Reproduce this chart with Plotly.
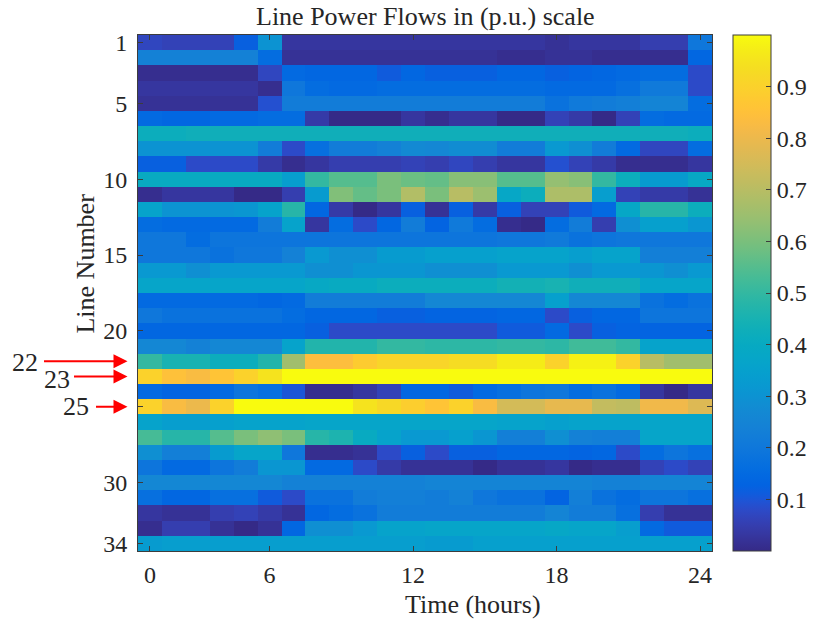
import plotly.graph_objects as go

# ---------------- data ----------------
hours_index = list(range(1, 25))          # 24 hourly columns
line_numbers = list(range(1, 35))         # 34 lines
x_tick_vals = [1, 6, 12, 18, 24]
x_tick_text = ["0", "6", "12", "18", "24"]
y_tick_vals = [1, 5, 10, 15, 20, 25, 30, 34]
y_tick_text = ["1", "5", "10", "15", "20", "", "30", "34"]
cbar_ticks = [0.1, 0.2, 0.3, 0.4, 0.5, 0.6, 0.7, 0.8, 0.9]
marked_lines = [22, 23, 25]

L01 = [0.07,0.06,0.06,0.06,0.12,0.30,0.03,0.03,0.03,0.03,0.03,0.03,0.03,0.03,0.03,0.03,0.03,0.02,0.03,0.03,0.03,0.05,0.05,0.20]
L02 = [0.24,0.24,0.24,0.24,0.24,0.16,0.02,0.02,0.02,0.02,0.02,0.02,0.02,0.02,0.02,0.01,0.01,0.02,0.02,0.01,0.01,0.01,0.01,0.14]
L03 = [0.01,0.01,0.01,0.01,0.01,0.07,0.15,0.14,0.14,0.14,0.11,0.14,0.12,0.12,0.12,0.14,0.14,0.12,0.13,0.14,0.15,0.16,0.16,0.08]
L04 = [0.03,0.03,0.03,0.03,0.03,0.01,0.20,0.16,0.15,0.15,0.16,0.16,0.16,0.16,0.16,0.16,0.16,0.15,0.15,0.15,0.17,0.21,0.21,0.08]
L05 = [0.02,0.02,0.02,0.02,0.02,0.09,0.22,0.22,0.22,0.22,0.22,0.22,0.22,0.22,0.22,0.22,0.22,0.18,0.21,0.22,0.23,0.25,0.25,0.16]
L06 = [0.15,0.14,0.14,0.15,0.15,0.16,0.16,0.04,0.00,0.00,0.00,0.03,0.01,0.03,0.03,0.00,0.00,0.06,0.04,0.00,0.06,0.16,0.15,0.15]
L07 = [0.42,0.42,0.43,0.43,0.43,0.43,0.43,0.43,0.43,0.43,0.43,0.43,0.43,0.43,0.43,0.43,0.43,0.43,0.43,0.43,0.43,0.43,0.43,0.42]
L08 = [0.30,0.30,0.30,0.30,0.30,0.22,0.08,0.17,0.22,0.22,0.24,0.27,0.26,0.28,0.28,0.22,0.22,0.32,0.29,0.22,0.15,0.07,0.07,0.16]
L09 = [0.12,0.12,0.08,0.08,0.08,0.04,0.01,0.03,0.05,0.05,0.05,0.06,0.05,0.07,0.05,0.03,0.03,0.09,0.06,0.04,0.01,0.01,0.01,0.03]
L10 = [0.40,0.40,0.40,0.40,0.40,0.40,0.34,0.50,0.55,0.55,0.60,0.58,0.57,0.62,0.62,0.55,0.55,0.64,0.62,0.50,0.42,0.33,0.33,0.39]
L11 = [0.01,0.03,0.03,0.03,0.00,0.00,0.05,0.33,0.61,0.57,0.60,0.69,0.60,0.70,0.65,0.38,0.42,0.68,0.68,0.34,0.06,0.04,0.04,0.02]
L12 = [0.36,0.30,0.30,0.30,0.31,0.36,0.48,0.14,0.04,0.00,0.03,0.12,0.02,0.12,0.04,0.12,0.06,0.06,0.11,0.15,0.38,0.48,0.48,0.42]
L13 = [0.16,0.15,0.15,0.15,0.15,0.22,0.36,0.03,0.16,0.08,0.14,0.22,0.13,0.21,0.16,0.01,0.00,0.16,0.22,0.05,0.29,0.35,0.35,0.31]
L14 = [0.20,0.20,0.16,0.19,0.19,0.19,0.19,0.19,0.19,0.19,0.19,0.19,0.19,0.19,0.19,0.20,0.20,0.21,0.18,0.19,0.20,0.20,0.20,0.20]
L15 = [0.20,0.20,0.20,0.18,0.20,0.20,0.24,0.32,0.29,0.29,0.33,0.33,0.35,0.35,0.35,0.36,0.36,0.36,0.34,0.36,0.36,0.23,0.23,0.23]
L16 = [0.32,0.32,0.29,0.32,0.32,0.32,0.32,0.29,0.29,0.31,0.31,0.31,0.29,0.29,0.29,0.32,0.32,0.32,0.29,0.32,0.32,0.31,0.29,0.32]
L17 = [0.37,0.37,0.37,0.37,0.37,0.37,0.37,0.39,0.40,0.40,0.42,0.42,0.42,0.42,0.42,0.44,0.44,0.45,0.43,0.43,0.43,0.37,0.37,0.37]
L18 = [0.15,0.15,0.15,0.15,0.15,0.14,0.15,0.22,0.22,0.22,0.22,0.22,0.26,0.26,0.26,0.26,0.26,0.35,0.26,0.26,0.26,0.18,0.16,0.18]
L19 = [0.20,0.18,0.18,0.18,0.18,0.18,0.16,0.14,0.14,0.14,0.12,0.12,0.13,0.13,0.13,0.14,0.14,0.08,0.12,0.14,0.14,0.19,0.19,0.19]
L20 = [0.14,0.14,0.14,0.14,0.14,0.14,0.14,0.12,0.08,0.08,0.08,0.08,0.08,0.08,0.08,0.11,0.11,0.15,0.08,0.12,0.13,0.13,0.13,0.13]
L21 = [0.26,0.26,0.24,0.26,0.26,0.26,0.36,0.47,0.47,0.47,0.50,0.50,0.49,0.49,0.49,0.50,0.50,0.49,0.52,0.52,0.50,0.36,0.36,0.36]
L22 = [0.50,0.45,0.45,0.42,0.42,0.47,0.66,0.84,0.84,0.88,0.91,0.91,0.91,0.93,0.93,0.97,0.97,0.90,0.98,0.98,0.90,0.70,0.66,0.66]
L23 = [0.90,0.85,0.83,0.86,0.90,0.95,1.00,1.00,1.00,1.00,1.00,1.00,1.00,1.00,1.00,1.00,1.00,1.00,1.00,1.00,1.00,1.00,1.00,1.00]
L24 = [0.15,0.13,0.13,0.15,0.19,0.17,0.10,0.01,0.01,0.03,0.06,0.14,0.14,0.11,0.15,0.17,0.19,0.20,0.16,0.18,0.15,0.03,0.00,0.03]
L25 = [0.90,0.83,0.80,0.90,1.00,1.00,1.00,1.00,1.00,0.95,0.92,0.89,0.86,0.90,0.83,0.75,0.75,0.79,0.79,0.72,0.71,0.81,0.81,0.77]
L26 = [0.36,0.34,0.34,0.35,0.36,0.36,0.36,0.37,0.37,0.37,0.37,0.37,0.37,0.37,0.37,0.36,0.36,0.35,0.36,0.36,0.36,0.37,0.37,0.37]
L27 = [0.53,0.48,0.48,0.55,0.60,0.63,0.60,0.48,0.46,0.40,0.36,0.32,0.32,0.35,0.31,0.23,0.23,0.29,0.24,0.23,0.23,0.37,0.37,0.37]
L28 = [0.29,0.23,0.23,0.33,0.37,0.37,0.20,0.01,0.01,0.02,0.08,0.12,0.08,0.12,0.12,0.14,0.14,0.14,0.13,0.14,0.08,0.16,0.19,0.17]
L29 = [0.19,0.15,0.15,0.19,0.22,0.31,0.31,0.15,0.15,0.08,0.04,0.02,0.02,0.02,0.00,0.02,0.02,0.03,0.00,0.01,0.01,0.06,0.08,0.06]
L30 = [0.26,0.26,0.26,0.26,0.26,0.26,0.24,0.24,0.24,0.24,0.24,0.24,0.25,0.25,0.25,0.25,0.25,0.25,0.25,0.24,0.24,0.25,0.25,0.25]
L31 = [0.17,0.14,0.14,0.17,0.17,0.11,0.08,0.18,0.18,0.22,0.23,0.23,0.22,0.24,0.20,0.18,0.18,0.13,0.23,0.18,0.16,0.19,0.19,0.17]
L32 = [0.03,0.02,0.02,0.05,0.06,0.04,0.02,0.14,0.16,0.18,0.22,0.22,0.22,0.22,0.22,0.22,0.22,0.25,0.22,0.22,0.17,0.05,0.02,0.02]
L33 = [0.01,0.05,0.05,0.02,0.00,0.02,0.14,0.29,0.29,0.32,0.36,0.36,0.37,0.37,0.37,0.37,0.37,0.38,0.37,0.37,0.34,0.15,0.11,0.11]
L34 = [0.33,0.34,0.34,0.34,0.34,0.34,0.34,0.34,0.34,0.34,0.34,0.34,0.33,0.33,0.35,0.35,0.35,0.35,0.35,0.35,0.35,0.35,0.35,0.35]

flows = [L01, L02, L03, L04, L05, L06, L07, L08, L09, L10, L11, L12, L13, L14, L15, L16, L17,
         L18, L19, L20, L21, L22, L23, L24, L25, L26, L27, L28, L29, L30, L31, L32, L33, L34]

# ---------------- style ----------------
PARULA = [
    [0.2081,0.1663,0.5292],[0.2116,0.1898,0.5777],[0.2123,0.2138,0.6270],[0.2081,0.2386,0.6771],
    [0.1959,0.2645,0.7279],[0.1707,0.2919,0.7792],[0.1253,0.3242,0.8303],[0.0591,0.3598,0.8683],
    [0.0117,0.3875,0.8820],[0.0060,0.4086,0.8828],[0.0165,0.4266,0.8786],[0.0329,0.4430,0.8720],
    [0.0498,0.4586,0.8641],[0.0629,0.4737,0.8554],[0.0723,0.4887,0.8467],[0.0779,0.5040,0.8384],
    [0.0793,0.5200,0.8312],[0.0749,0.5375,0.8263],[0.0641,0.5570,0.8240],[0.0488,0.5772,0.8228],
    [0.0343,0.5966,0.8199],[0.0265,0.6137,0.8135],[0.0239,0.6287,0.8038],[0.0231,0.6418,0.7913],
    [0.0228,0.6535,0.7768],[0.0267,0.6642,0.7607],[0.0384,0.6743,0.7436],[0.0590,0.6838,0.7254],
    [0.0843,0.6928,0.7062],[0.1133,0.7015,0.6859],[0.1453,0.7098,0.6646],[0.1801,0.7177,0.6424],
    [0.2178,0.7250,0.6193],[0.2586,0.7317,0.5954],[0.3022,0.7376,0.5712],[0.3482,0.7424,0.5473],
    [0.3953,0.7459,0.5244],[0.4420,0.7481,0.5033],[0.4871,0.7491,0.4840],[0.5300,0.7491,0.4661],
    [0.5709,0.7485,0.4494],[0.6099,0.7473,0.4337],[0.6473,0.7456,0.4188],[0.6834,0.7435,0.4044],
    [0.7184,0.7411,0.3905],[0.7525,0.7384,0.3768],[0.7858,0.7356,0.3633],[0.8185,0.7327,0.3498],
    [0.8507,0.7299,0.3360],[0.8824,0.7274,0.3217],[0.9139,0.7258,0.3063],[0.9450,0.7261,0.2886],
    [0.9739,0.7314,0.2666],[0.9938,0.7455,0.2403],[0.9990,0.7653,0.2164],[0.9955,0.7861,0.1967],
    [0.9880,0.8066,0.1794],[0.9789,0.8271,0.1633],[0.9697,0.8481,0.1475],[0.9626,0.8705,0.1309],
    [0.9589,0.8949,0.1132],[0.9598,0.9218,0.0948],[0.9661,0.9514,0.0755],[0.9763,0.9831,0.0538],
]
n = len(PARULA)
colorscale = [[i / (n - 1), "rgb(%d,%d,%d)" % tuple(round(c * 255) for c in rgb)]
              for i, rgb in enumerate(PARULA)]

FONT = "Liberation Serif, Times New Roman, serif"
TXT = "#262626"
AX = "#3c3c3c"

W, H = 816, 621
L, R, T, B = 137.5, 104, 35, 70
pw = W - L - R
ph = H - T - B

def px_x(px):
    return (px - L) / pw

def px_y(py):
    return (H - B - py) / ph

fig = go.Figure(go.Heatmap(
    z=flows, x=hours_index, y=line_numbers,
    colorscale=colorscale, zmin=0, zmax=1,
    colorbar=dict(
        x=px_x(733), xanchor="left", xpad=0,
        y=0.5, yanchor="middle", ypad=0, len=1, lenmode="fraction",
        thickness=38, outlinecolor=AX, outlinewidth=1,
        tickvals=cbar_ticks, ticktext=[str(v) for v in cbar_ticks],
        ticks="inside", ticklen=5, tickcolor=AX,
        tickfont=dict(family=FONT, size=24, color=TXT),
    ),
    hoverinfo="skip",
))

fig.update_xaxes(
    range=[0.5, 24.5], tickvals=x_tick_vals, ticktext=x_tick_text,
    ticks="inside", ticklen=5, tickcolor=AX, mirror="ticks",
    showline=True, linecolor=AX, linewidth=1, showgrid=False, zeroline=False,
    tickfont=dict(family=FONT, size=24, color=TXT), ticklabelstandoff=2,
)
fig.update_yaxes(
    range=[34.5, 0.5], tickvals=y_tick_vals, ticktext=y_tick_text,
    ticks="inside", ticklen=5, tickcolor=AX, mirror="ticks",
    showline=True, linecolor=AX, linewidth=1, showgrid=False, zeroline=False,
    tickfont=dict(family=FONT, size=24, color=TXT), ticklabelstandoff=5,
)

annotations = [
    dict(text="Line Power Flows in (p.u.) scale", xref="paper", yref="paper",
         x=px_x(425), y=px_y(17), xanchor="center", yanchor="middle", showarrow=False,
         font=dict(family=FONT, size=26, color=TXT)),
    dict(text="Time (hours)", xref="paper", yref="paper",
         x=px_x(473), y=px_y(604), xanchor="center", yanchor="middle", showarrow=False,
         font=dict(family=FONT, size=26, color=TXT)),
    dict(text="Line Number", xref="paper", yref="paper", textangle=-90,
         x=px_x(84), y=px_y(264), xanchor="center", yanchor="middle", showarrow=False,
         font=dict(family=FONT, size=26, color=TXT)),
]

arrow_tails = {22: 42, 23: 72, 25: 94}
label_pos = {22: (24.5, 22.11), 23: (56, 23.23), 25: (75.5, 25.0)}
tip = px_x(127)
for ln in marked_lines:
    annotations.append(dict(
        text="", xref="paper", yref="y", x=tip, y=ln,
        ax=arrow_tails[ln] - 127, ay=0, axref="pixel", ayref="pixel",
        showarrow=True, arrowhead=2, arrowsize=1.4, arrowwidth=2, arrowcolor="#ff0000",
        standoff=0, startstandoff=0,
    ))
    lx, ly = label_pos[ln]
    annotations.append(dict(
        text=str(ln), xref="paper", yref="y", x=px_x(lx), y=ly,
        xanchor="center", yanchor="middle", showarrow=False,
        font=dict(family=FONT, size=26, color=TXT),
    ))

fig.update_layout(
    width=W, height=H,
    margin=dict(l=L, r=R, t=T, b=B, pad=0, autoexpand=False),
    paper_bgcolor="white", plot_bgcolor="white",
    font=dict(family=FONT, color=TXT),
    annotations=annotations,
    showlegend=False,
)

fig.write_html("out.html", config={"displayModeBar": False})
